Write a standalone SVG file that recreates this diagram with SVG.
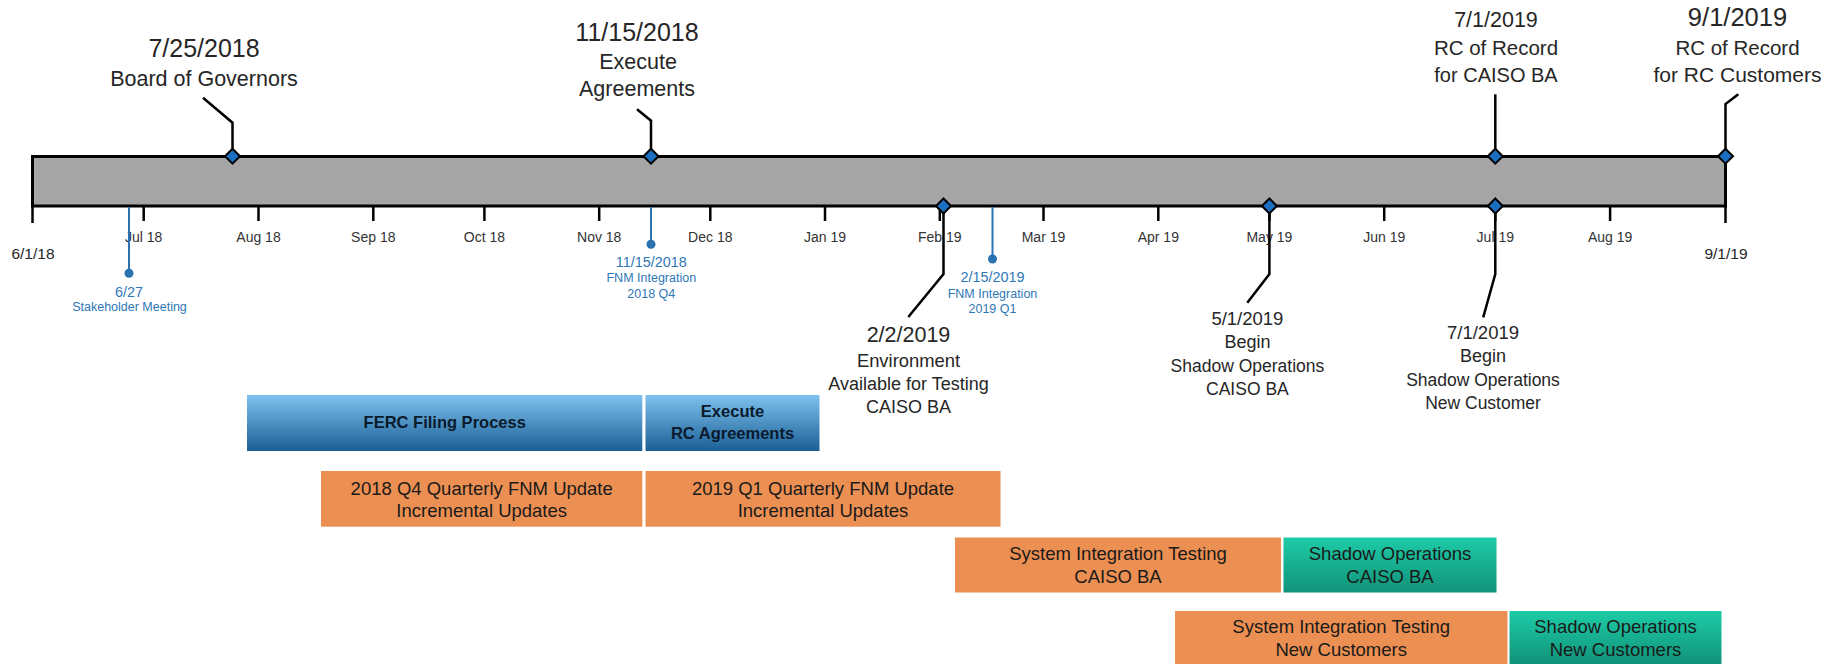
<svg xmlns="http://www.w3.org/2000/svg" width="1839" height="664" viewBox="0 0 1839 664">
<defs>
<linearGradient id="gBlue" x1="0" y1="0" x2="0" y2="1">
<stop offset="0" stop-color="#7fc2ef"/>
<stop offset="1" stop-color="#1a5f96"/>
</linearGradient>
<linearGradient id="gTeal" x1="0" y1="0" x2="0" y2="1">
<stop offset="0" stop-color="#1dcba7"/>
<stop offset="1" stop-color="#119379"/>
</linearGradient>
<style>
text{font-family:"Liberation Sans",Arial,sans-serif;text-anchor:middle;fill:#262626}
.ms{font-size:21.5px}
.md{font-size:25px}
.lo{font-size:18px}
.mo{font-size:14px;fill:#333}
.en{font-size:15.5px}
.bl{fill:#2e77b6;font-size:12.5px}
.bd{fill:#2e77b6;font-size:14.4px}
.bx{font-size:18.5px;fill:#1a1a1a}
.bb{font-size:16.5px;font-weight:bold;fill:#0b1a2c}
.lead{stroke:#000;stroke-width:2.5;fill:none}
.tick{stroke:#000;stroke-width:2.5}
.bline{stroke:#2a72b0;stroke-width:2}
.dia{fill:#1b6fc0;stroke:#000;stroke-width:2}
.orange{fill:#ec8f52}
</style>
</defs>
<rect width="1839" height="664" fill="#fff"/>

<g id="timeline">
<rect x="32.5" y="156.5" width="1693" height="49.5" fill="#a5a5a5" stroke="#000" stroke-width="3"/>
<line class="tick" x1="32.5" y1="156" x2="32.5" y2="223"/>
<line class="tick" x1="1725.5" y1="156" x2="1725.5" y2="223"/>
<line class="tick" x1="143.7" y1="206" x2="143.7" y2="221"/>
<line class="tick" x1="258.5" y1="206" x2="258.5" y2="221"/>
<line class="tick" x1="373.3" y1="206" x2="373.3" y2="221"/>
<line class="tick" x1="484.4" y1="206" x2="484.4" y2="221"/>
<line class="tick" x1="599.2" y1="206" x2="599.2" y2="221"/>
<line class="tick" x1="710.3" y1="206" x2="710.3" y2="221"/>
<line class="tick" x1="825" y1="206" x2="825" y2="221"/>
<line class="tick" x1="939.8" y1="206" x2="939.8" y2="221"/>
<line class="tick" x1="1043.5" y1="206" x2="1043.5" y2="221"/>
<line class="tick" x1="1158.3" y1="206" x2="1158.3" y2="221"/>
<line class="tick" x1="1269.4" y1="206" x2="1269.4" y2="221"/>
<line class="tick" x1="1384.2" y1="206" x2="1384.2" y2="221"/>
<line class="tick" x1="1495.3" y1="206" x2="1495.3" y2="221"/>
<line class="tick" x1="1610.1" y1="206" x2="1610.1" y2="221"/>
<text class="en" x="33" y="259">6/1/18</text>
<text class="en" x="1726" y="259">9/1/19</text>
<text class="mo" x="143.7" y="241.5">Jul 18</text>
<text class="mo" x="258.5" y="241.5">Aug 18</text>
<text class="mo" x="373.3" y="241.5">Sep 18</text>
<text class="mo" x="484.4" y="241.5">Oct 18</text>
<text class="mo" x="599.2" y="241.5">Nov 18</text>
<text class="mo" x="710.3" y="241.5">Dec 18</text>
<text class="mo" x="825" y="241.5">Jan 19</text>
<text class="mo" x="939.8" y="241.5">Feb 19</text>
<text class="mo" x="1043.5" y="241.5">Mar 19</text>
<text class="mo" x="1158.3" y="241.5">Apr 19</text>
<text class="mo" x="1269.4" y="241.5">May 19</text>
<text class="mo" x="1384.2" y="241.5">Jun 19</text>
<text class="mo" x="1495.3" y="241.5">Jul 19</text>
<text class="mo" x="1610.1" y="241.5">Aug 19</text>
</g>

<g id="connectors">
<polyline class="lead" points="232.5,156 232.5,122.7 203,97.7"/>
<polyline class="lead" points="651,156 651,120.7 637,109.3"/>
<polyline class="lead" points="1495.3,156 1495.3,94.3"/>
<polyline class="lead" points="1725.5,156 1725.5,104 1738.3,94.3"/>
<polyline class="lead" points="943.5,206 943.5,274 908.3,317"/>
<polyline class="lead" points="1269.4,206 1269.4,274 1247.3,302.7"/>
<polyline class="lead" points="1495.3,206 1495.3,274 1483.2,317.3"/>
<line class="bline" x1="129" y1="207" x2="129" y2="273.3"/>
<line class="bline" x1="651" y1="207" x2="651" y2="244.3"/>
<line class="bline" x1="992.5" y1="207" x2="992.5" y2="259"/>
</g>

<g id="m-board">
<path class="dia" d="M232.5,148.7 L240,156.2 L232.5,163.7 L225,156.2 Z"/>
<text class="md" x="204" y="56.7">7/25/2018</text>
<text class="ms" x="204" y="85.5">Board of Governors</text>
</g>
<g id="m-execute">
<path class="dia" d="M651,148.7 L658.5,156.2 L651,163.7 L643.5,156.2 Z"/>
<text class="md" x="637" y="41">11/15/2018</text>
<text class="ms" x="638" y="69.3">Execute</text>
<text class="ms" x="637" y="96">Agreements</text>
</g>
<g id="m-rc-caiso">
<path class="dia" d="M1495.3,148.7 L1502.8,156.2 L1495.3,163.7 L1487.8,156.2 Z"/>
<text class="ms" x="1496" y="26.7">7/1/2019</text>
<text class="ms" x="1496" y="55" style="font-size:20.5px">RC of Record</text>
<text class="ms" x="1496" y="81.7" style="font-size:20px">for CAISO BA</text>
</g>
<g id="m-rc-customers">
<path class="dia" d="M1725.5,148.7 L1733,156.2 L1725.5,163.7 L1718,156.2 Z"/>
<text class="md" x="1737.5" y="26" style="font-size:25.5px">9/1/2019</text>
<text class="ms" x="1737.5" y="55" style="font-size:20.5px">RC of Record</text>
<text class="ms" x="1737.5" y="81.7" style="font-size:21px">for RC Customers</text>
</g>
<g id="m-env">
<path class="dia" d="M943.5,198.5 L951,206 L943.5,213.5 L936,206 Z"/>
<text class="ms" x="908.5" y="342.3">2/2/2019</text>
<text class="lo" x="908.5" y="366.7" style="font-size:18.4px">Environment</text>
<text class="lo" x="908.5" y="390">Available for Testing</text>
<text class="lo" x="908.5" y="413.3">CAISO BA</text>
</g>
<g id="m-shadow-caiso">
<path class="dia" d="M1269.4,198.5 L1276.9,206 L1269.4,213.5 L1261.9,206 Z"/>
<text class="lo" x="1247.4" y="325" style="font-size:18.5px">5/1/2019</text>
<text class="lo" x="1247.4" y="347.5">Begin</text>
<text class="lo" x="1247.4" y="371.5" style="font-size:17.5px">Shadow Operations</text>
<text class="lo" x="1247.4" y="395" style="font-size:17.5px">CAISO BA</text>
</g>
<g id="m-shadow-new">
<path class="dia" d="M1495.3,198.5 L1502.8,206 L1495.3,213.5 L1487.8,206 Z"/>
<text class="lo" x="1483" y="339" style="font-size:18.5px">7/1/2019</text>
<text class="lo" x="1483" y="362">Begin</text>
<text class="lo" x="1483" y="386" style="font-size:17.5px">Shadow Operations</text>
<text class="lo" x="1483" y="409" style="font-size:17.5px">New Customer</text>
</g>

<g id="m-stakeholder">
<circle cx="129" cy="273.3" r="4.5" fill="#2a72b0"/>
<text class="bd" x="129" y="296.5">6/27</text>
<text class="bl" x="129.5" y="311">Stakeholder Meeting</text>
</g>
<g id="m-fnm-q4">
<circle cx="651" cy="244.3" r="4.5" fill="#2a72b0"/>
<text class="bd" x="651.3" y="266.7">11/15/2018</text>
<text class="bl" x="651.3" y="282.3">FNM Integration</text>
<text class="bl" x="651.3" y="297.5">2018 Q4</text>
</g>
<g id="m-fnm-q1">
<circle cx="992.5" cy="259" r="4.5" fill="#2a72b0"/>
<text class="bd" x="992.5" y="281.5">2/15/2019</text>
<text class="bl" x="992.5" y="297.5">FNM Integration</text>
<text class="bl" x="992.5" y="313">2019 Q1</text>
</g>

<g id="t-ferc">
<rect x="247" y="395" width="395.3" height="56" fill="url(#gBlue)"/>
<text class="bb" x="444.7" y="427.5">FERC Filing Process</text>
</g>
<g id="t-exec-rc">
<rect x="645.5" y="395" width="174" height="56" fill="url(#gBlue)"/>
<text class="bb" x="732.5" y="417">Execute</text>
<text class="bb" x="732.5" y="438.8">RC Agreements</text>
</g>
<g id="t-q4">
<rect class="orange" x="321" y="471" width="321.3" height="55.7"/>
<text class="bx" x="481.7" y="494.5">2018 Q4 Quarterly FNM Update</text>
<text class="bx" x="481.7" y="516.5">Incremental Updates</text>
</g>
<g id="t-q1">
<rect class="orange" x="645.5" y="471" width="355" height="55.7"/>
<text class="bx" x="823" y="494.5">2019 Q1 Quarterly FNM Update</text>
<text class="bx" x="823" y="516.5">Incremental Updates</text>
</g>
<g id="t-sit-caiso">
<rect class="orange" x="955" y="537.5" width="326" height="55"/>
<text class="bx" x="1118" y="560">System Integration Testing</text>
<text class="bx" x="1118" y="583">CAISO BA</text>
</g>
<g id="t-so-caiso">
<rect x="1283.5" y="537.5" width="213" height="55" fill="url(#gTeal)"/>
<text class="bx" x="1390" y="560">Shadow Operations</text>
<text class="bx" x="1390" y="583">CAISO BA</text>
</g>
<g id="t-sit-new">
<rect class="orange" x="1175" y="611" width="332.5" height="53"/>
<text class="bx" x="1341.2" y="633">System Integration Testing</text>
<text class="bx" x="1341.2" y="656">New Customers</text>
</g>
<g id="t-so-new">
<rect x="1509.5" y="611" width="212" height="53" fill="url(#gTeal)"/>
<text class="bx" x="1615.5" y="633">Shadow Operations</text>
<text class="bx" x="1615.5" y="656">New Customers</text>
</g>
</svg>
